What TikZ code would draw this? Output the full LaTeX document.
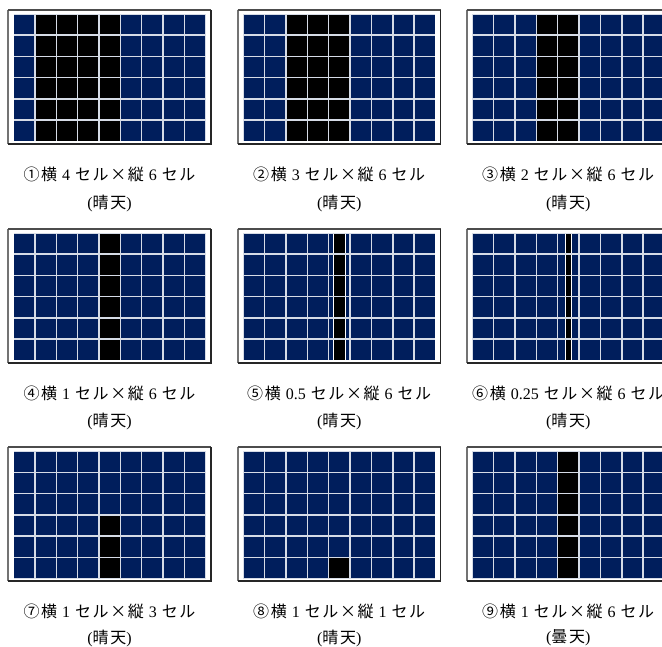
\documentclass[tikz,border=0pt]{standalone}
\usepackage{fontspec}
\setmainfont{Liberation Serif}
\newfontfamily\jp[LetterSpace=10]{Noto Sans CJK JP}
\definecolor{navy}{HTML}{001E5C}
\definecolor{gridline}{HTML}{D5DBE6}
\newcommand\cellW{21.35}
\newcommand\cellH{21.25}
\newcommand\cellfill[3]{\fill[#3] ({5.6+#1*\cellW+0.75},{4+#2*\cellH+0.75}) rectangle ({5.6+(#1+1)*\cellW-0.75},{4+(#2+1)*\cellH-0.75});}
\newcommand\solarpanel[2]{%
 \begin{scope}[shift={(#1,#2)}]
  \fill[white] (0,0) rectangle (203,134);
  \fill[gridline] (5.6,4) rectangle ({5.6+9*\cellW},{4+6*\cellH});
  \foreach \i in {0,...,8}{\foreach \j in {0,...,5}{\cellfill{\i}{\j}{navy}}}
  \draw[framegray] (0,134) -- (0,0);
  \draw[frametop] (0,0) -- (203,0);
  \draw[frameblk] (203,0) -- (203,134) -- (0,134);
 \end{scope}}
\newcommand\blackcells[3]{%
 \begin{scope}[shift={(#1,#2)}]
  \foreach \i/\j in {#3}{\cellfill{\i}{\j}{black}}
 \end{scope}}
\newcommand\narrowstrip[3]{% x y halfwidth
 \begin{scope}[shift={(#1,#2)}]
  \foreach \j in {0,...,5}{
   \fill[white] ({5.6+4.5*\cellW-#3-1.3},{4+\j*\cellH+0.75}) rectangle ({5.6+4.5*\cellW+#3+1.3},{4+(\j+1)*\cellH-0.75});
   \fill[black] ({5.6+4.5*\cellW-#3},{4+\j*\cellH+0.75}) rectangle ({5.6+4.5*\cellW+#3},{4+(\j+1)*\cellH-0.75});
  }
 \end{scope}}
\newcommand\nm[1]{\hspace{5pt}#1\hspace{5pt}}
\tikzset{
 framegray/.style={draw=black!55,line width=1.8pt},
 frametop/.style={draw=black!70,line width=1.2pt},
 frameblk/.style={draw=black!85,line width=1.2pt},
 lab/.style={inner sep=0pt,font=\fontsize{16}{19}\selectfont}
}
\begin{document}
\begin{tikzpicture}[x=1pt,y=-1pt]
\useasboundingbox (0,0) rectangle (662,647);
\clip (0,0) rectangle (662,647);
% row 1
\solarpanel{8}{10}
\blackcells{8}{10}{1/0,1/1,1/2,1/3,1/4,1/5,2/0,2/1,2/2,2/3,2/4,2/5,3/0,3/1,3/2,3/3,3/4,3/5,4/0,4/1,4/2,4/3,4/4,4/5}
\solarpanel{237.7}{10}
\blackcells{237.7}{10}{2/0,2/1,2/2,2/3,2/4,2/5,3/0,3/1,3/2,3/3,3/4,3/5,4/0,4/1,4/2,4/3,4/4,4/5}
\solarpanel{466.7}{10}
\blackcells{466.7}{10}{3/0,3/1,3/2,3/3,3/4,3/5,4/0,4/1,4/2,4/3,4/4,4/5}
% row 2
\solarpanel{8}{229}
\blackcells{8}{229}{4/0,4/1,4/2,4/3,4/4,4/5}
\solarpanel{237.7}{229}
\narrowstrip{237.7}{229}{5.3}
\solarpanel{466.7}{229}
\narrowstrip{466.7}{229}{2.4}
% row 3
\solarpanel{8}{447}
\blackcells{8}{447}{4/3,4/4,4/5}
\solarpanel{237.7}{447}
\blackcells{237.7}{447}{4/5}
\solarpanel{466.7}{447}
\blackcells{466.7}{447}{4/0,4/1,4/2,4/3,4/4,4/5}
% labels
\node[lab] (l1a) at (109.5,174) {{\jp ①横}\nm{4}{\jp セル×縦}\nm{6}{\jp セル}};
\node[lab] (l1b) at (109.5,203) {({\jp 晴天})};
\node[lab] (l2a) at (339.2,174) {{\jp ②横}\nm{3}{\jp セル×縦}\nm{6}{\jp セル}};
\node[lab] (l2b) at (339.2,203) {({\jp 晴天})};
\node[lab] (l3a) at (568.2,174) {{\jp ③横}\nm{2}{\jp セル×縦}\nm{6}{\jp セル}};
\node[lab] (l3b) at (568.2,203) {({\jp 晴天})};
\node[lab] (l4a) at (109.5,393) {{\jp ④横}\nm{1}{\jp セル×縦}\nm{6}{\jp セル}};
\node[lab] (l4b) at (109.5,421) {({\jp 晴天})};
\node[lab] (l5a) at (339.2,393) {{\jp ⑤横}\nm{0.5}{\jp セル×縦}\nm{6}{\jp セル}};
\node[lab] (l5b) at (339.2,421) {({\jp 晴天})};
\node[lab] (l6a) at (568.2,393) {{\jp ⑥横}\nm{0.25}{\jp セル×縦}\nm{6}{\jp セル}};
\node[lab] (l6b) at (568.2,421) {({\jp 晴天})};
\node[lab] (l7a) at (109.5,611) {{\jp ⑦横}\nm{1}{\jp セル×縦}\nm{3}{\jp セル}};
\node[lab] (l7b) at (109.5,638) {({\jp 晴天})};
\node[lab] (l8a) at (339.2,611) {{\jp ⑧横}\nm{1}{\jp セル×縦}\nm{1}{\jp セル}};
\node[lab] (l8b) at (339.2,638) {({\jp 晴天})};
\node[lab] (l9a) at (568.2,611) {{\jp ⑨横}\nm{1}{\jp セル×縦}\nm{6}{\jp セル}};
\node[lab] (l9b) at (568.2,638) {({\jp 曇天})};
\end{tikzpicture}
\end{document}
